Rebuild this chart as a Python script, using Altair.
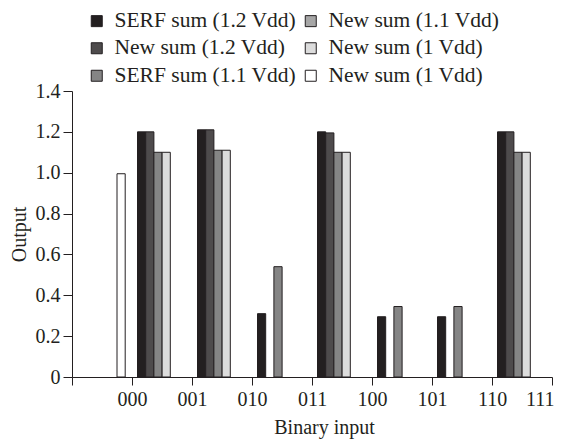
import altair as alt
import pandas as pd

# ---------------- data ----------------
codes = ["000", "001", "010", "011", "100", "101", "110", "111"]

SERF_12 = "SERF sum (1.2 Vdd)"
NEW_12 = "New sum (1.2 Vdd)"
SERF_11 = "SERF sum (1.1 Vdd)"
NEW_11 = "New sum (1.1 Vdd)"
NEW_1A = "New sum (1 Vdd)"
NEW_1B = "New sum (1 Vdd) #2"   # second legend entry with the same label

serf_12 = [1.20, 1.21, 0.31, 1.20, 0.295, 0.295, 1.20, None]
new_12 = [1.20, 1.21, None, 1.195, None, None, 1.20, None]
serf_11 = [1.10, 1.11, 0.54, 1.10, 0.345, 0.345, 1.10, None]
new_11 = [None, None, None, None, None, None, None, None]
new_1a = [1.10, 1.11, None, 1.10, None, None, 1.10, None]
new_1b = [0.995, None, None, None, None, None, None, None]

# ---------------- layout / style ----------------
legend_order = [SERF_12, NEW_12, SERF_11, NEW_11, NEW_1A, NEW_1B]
legend_colors = ["#231f20", "#4e4b4c", "#858585", "#a6a6a6", "#dcdcdc", "#ffffff"]
slot = {SERF_12: 0, NEW_12: 1, SERF_11: 2, NEW_1A: 3, NEW_1B: -2.5}
GROUP_START = 5.5 / 60.0
BAR_W = 8.2 / 60.0
FONT = "Liberation Serif"

series_values = {
    SERF_12: serf_12, NEW_12: new_12, SERF_11: serf_11,
    NEW_11: new_11, NEW_1A: new_1a, NEW_1B: new_1b,
}

rows = []
for name, vals in series_values.items():
    for i, v in enumerate(vals):
        if v is None:
            continue
        start = i + 1 + GROUP_START + slot[name] * BAR_W
        rows.append({"series": name, "code": codes[i], "value": v,
                     "x0": start, "x1": start + BAR_W})
df = pd.DataFrame(rows)

tick_labels = [""] + codes
x_label_expr = "[" + ",".join("'%s'" % t for t in tick_labels) + "][datum.value]"

chart = alt.Chart(df).mark_bar(
    stroke="#231f20", strokeWidth=1
).encode(
    x=alt.X("x0:Q",
            scale=alt.Scale(domain=[0, 8], nice=False, zero=False),
            axis=alt.Axis(values=list(range(9)), labelExpr=x_label_expr,
                          title="Binary input", tickSize=8, labelPadding=4,
                          labelFlush=True, labelFlushOffset=2,
                          titleX=252, titleY=56, titleAlign="center",
                          titleBaseline="alphabetic")),
    x2="x1:Q",
    y=alt.Y("value:Q",
            scale=alt.Scale(domain=[0, 1.4], nice=False),
            axis=alt.Axis(values=[0, 0.2, 0.4, 0.6, 0.8, 1.0, 1.2, 1.4],
                          labelExpr="datum.value == 0 ? '0' : format(datum.value, '.1f')",
                          title="Output", tickSize=9, labelPadding=3,
                          titleX=-43, titleY=143)),
    y2=alt.datum(0),
    color=alt.Color("series:N",
                    scale=alt.Scale(domain=legend_order, range=legend_colors),
                    legend=alt.Legend(orient="none", legendX=14, legendY=-81,
                                      columns=2, title=None,
                                      labelExpr="replace(datum.label, ' #2', '')",
                                      symbolType="square", symbolSize=121,
                                      symbolStrokeColor="#231f20",
                                      symbolStrokeWidth=1,
                                      labelFontSize=21.5, labelOffset=7,
                                      labelLimit=400,
                                      rowPadding=4.5, columnPadding=3,
                                      padding=0, labelColor="#231f20")),
).properties(
    width=480, height=286,
    autosize=alt.AutoSizeParams(type="none"),
    padding={"left": 64, "top": 83, "right": 2, "bottom": 62},
).configure(
    font=FONT,
).configure_view(
    stroke=None,
).configure_axis(
    grid=False,
    domainColor="#231f20", tickColor="#231f20",
    labelFont=FONT, titleFont=FONT,
    labelFontSize=20, titleFontSize=20,
    labelColor="#231f20", titleColor="#231f20",
    titleFontWeight="normal",
).configure_legend(
    labelFont=FONT,
)

chart.save("out.html", embed_options={"renderer": "svg", "actions": False})
